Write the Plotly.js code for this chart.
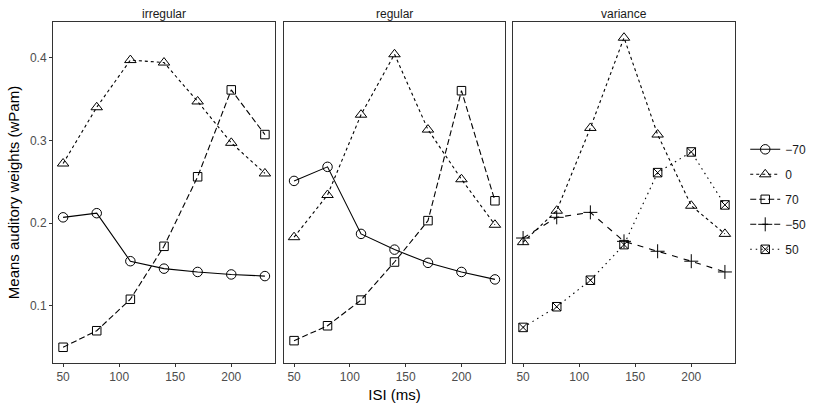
<!DOCTYPE html>
<html><head><meta charset="utf-8">
<script src="https://cdn.plot.ly/plotly-3.0.1.min.js"></script>
<style>html,body{margin:0;padding:0;background:#fff}#chart{width:825px;height:406px}</style>
</head><body><div id="chart"></div>
<script>
const isi = [50, 80, 110, 140, 170, 200, 230];
const panels = ["irregular", "regular", "variance"];
const seriesNames = ["\u221270", "0", "70", "\u221250", "50"];

const irregular_m70 = [0.207, 0.212, 0.154, 0.145, 0.141, 0.138, 0.136];
const irregular_0   = [0.272, 0.340, 0.397, 0.394, 0.347, 0.297, 0.260];
const irregular_70  = [0.050, 0.070, 0.108, 0.172, 0.256, 0.361, 0.307];

const regular_m70 = [0.251, 0.268, 0.187, 0.168, 0.152, 0.141, 0.132];
const regular_0   = [0.183, 0.234, 0.331, 0.404, 0.313, 0.253, 0.198];
const regular_70  = [0.058, 0.076, 0.107, 0.153, 0.203, 0.360, 0.227];

const variance_0   = [0.177, 0.215, 0.315, 0.424, 0.307, 0.221, 0.187];
const variance_m50 = [0.182, 0.207, 0.213, 0.178, 0.166, 0.154, 0.141];
const variance_50  = [0.074, 0.099, 0.131, 0.174, 0.261, 0.286, 0.222];

const xTicks = [50, 100, 150, 200];
const yTicks = [0.1, 0.2, 0.3, 0.4];

const styles = {
  "\u221270": {symbol: "circle-open", dash: "solid", size: 9.5},
  "0":        {symbol: "triangle-up-open", dash: "3px,3px", size: 10},
  "70":       {symbol: "square-open", dash: "6px,3px", size: 8.5},
  "\u221250": {symbol: "cross-thin-open", dash: "6px,6px", size: 10},
  "50":       {symbol: "square-x-open", dash: "1.5px,4px", size: 8.5}
};

const panelData = [
  [["\u221270", irregular_m70], ["0", irregular_0], ["70", irregular_70]],
  [["\u221270", regular_m70], ["0", regular_0], ["70", regular_70]],
  [["0", variance_0], ["\u221250", variance_m50], ["50", variance_50]]
];

const shown = {};
const traces = [];
panelData.forEach((list, pi) => {
  list.forEach(([name, vals]) => {
    const st = styles[name];
    traces.push({
      type: "scatter", mode: "lines+markers",
      x: isi, y: vals, name: name,
      xaxis: pi === 0 ? "x" : "x" + (pi + 1),
      yaxis: pi === 0 ? "y" : "y" + (pi + 1),
      legendgroup: name,
      legendrank: seriesNames.indexOf(name) + 1,
      showlegend: !shown[name],
      line: {color: "#000000", width: 1.1, dash: st.dash},
      marker: {symbol: st.symbol, size: st.size, color: "#000000", line: {width: 1, color: "#000000"}}
    });
    shown[name] = true;
  });
});

const domains = [[0, 222/682], [231/682, 452/682], [460/682, 1]];
const layout = {
  width: 825, height: 406,
  margin: {l: 53, r: 90, t: 22, b: 43, autoexpand: false},
  paper_bgcolor: "#ffffff", plot_bgcolor: "#ffffff",
  font: {family: "Liberation Sans, Arial, sans-serif", color: "#000000"},
  showlegend: true,
  legend: {x: 1.015, y: 0.48, yanchor: "middle", xanchor: "left",
           font: {size: 12, color: "#1a1a1a"}, tracegroupgap: 6, itemwidth: 30,
           bgcolor: "rgba(0,0,0,0)"},
  annotations: [],
  shapes: []
};
panels.forEach((p, i) => {
  const xk = i === 0 ? "xaxis" : "xaxis" + (i + 1);
  const yk = i === 0 ? "yaxis" : "yaxis" + (i + 1);
  layout[xk] = {
    domain: domains[i], range: [41, 239], anchor: i === 0 ? "y" : "y" + (i + 1),
    tickvals: xTicks, ticktext: xTicks.map(String),
    showgrid: false, zeroline: false, showline: true, mirror: true,
    linecolor: "#333333", linewidth: 1, ticks: "outside", ticklen: 3, tickcolor: "#333333",
    tickfont: {size: 12, color: "#4d4d4d"}
  };
  layout[yk] = {
    domain: [0, 1], range: [0.031, 0.443], anchor: i === 0 ? "x" : "x" + (i + 1),
    tickvals: yTicks, ticktext: yTicks.map(v => v.toFixed(1)),
    showticklabels: i === 0,
    showgrid: false, zeroline: false, showline: true, mirror: true,
    linecolor: "#333333", linewidth: 1, ticks: i === 0 ? "outside" : "", ticklen: 3, tickcolor: "#333333",
    tickfont: {size: 12, color: "#4d4d4d"}
  };
  layout.annotations.push({
    text: p, xref: "paper", yref: "paper",
    x: (domains[i][0] + domains[i][1]) / 2, y: 1, yshift: 8,
    xanchor: "center", yanchor: "middle", showarrow: false,
    font: {size: 12, color: "#1a1a1a"}
  });
});
layout.xaxis2.title = {text: "ISI (ms)", font: {size: 15, color: "#000000"}, standoff: 6};
layout.yaxis.title = {text: "Means auditory weights (wPam)", font: {size: 15, color: "#000000"}, standoff: 6};

Plotly.newPlot("chart", traces, layout, {displayModeBar: false, staticPlot: true});
</script>
</body></html>
